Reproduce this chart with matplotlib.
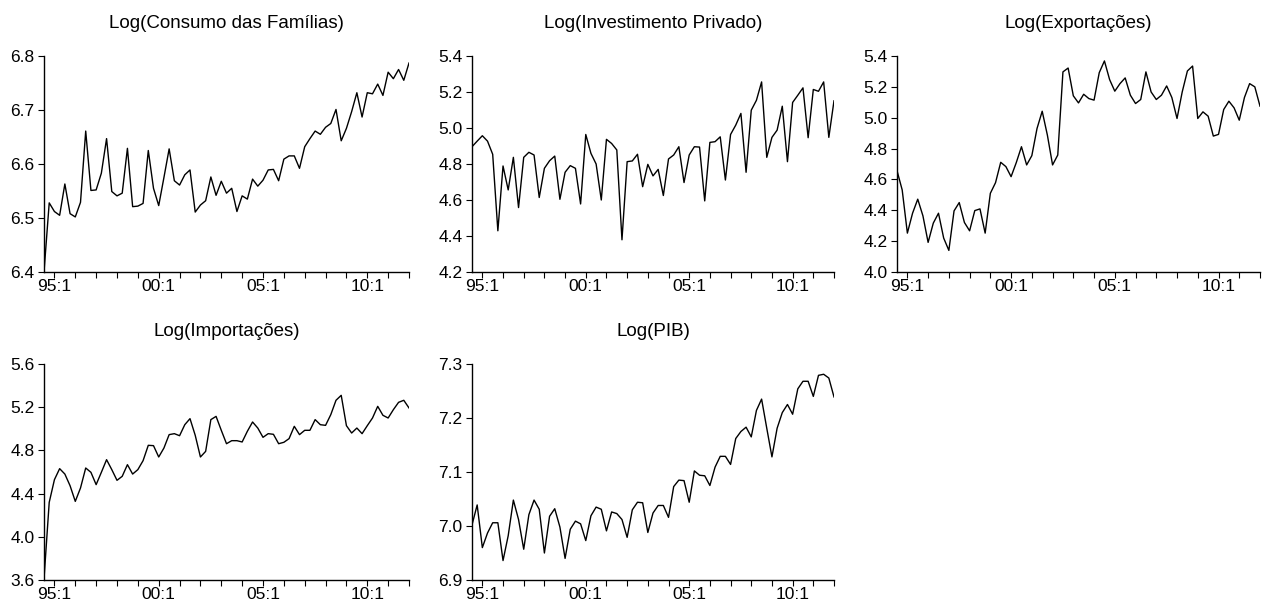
import matplotlib
matplotlib.use("Agg")
import matplotlib.pyplot as plt
import numpy as np

plt.rcParams['font.family'] = ['Liberation Sans', 'DejaVu Sans']

# Quarterly sample 1994:3 - 2012:1
start_year = 1994
start_quarter = 3

consumo = [6.400, 6.528, 6.512, 6.505, 6.563, 6.508, 6.502, 6.529, 6.661, 6.551,
           6.552, 6.583, 6.647, 6.549, 6.541, 6.546, 6.629, 6.521, 6.522, 6.527,
           6.625, 6.555, 6.523, 6.575, 6.628, 6.569, 6.561, 6.580, 6.589, 6.511,
           6.524, 6.532, 6.576, 6.542, 6.568, 6.546, 6.555, 6.512, 6.541, 6.535,
           6.572, 6.559, 6.570, 6.589, 6.590, 6.569, 6.609, 6.615, 6.615, 6.592,
           6.632, 6.647, 6.661, 6.655, 6.668, 6.675, 6.701, 6.643, 6.666, 6.697,
           6.732, 6.687, 6.732, 6.730, 6.748, 6.727, 6.770, 6.758, 6.775, 6.755,
           6.787]

investimento = [4.896, 4.927, 4.957, 4.927, 4.854, 4.429, 4.789, 4.656, 4.837, 4.558,
                4.837, 4.865, 4.850, 4.614, 4.776, 4.818, 4.844, 4.604, 4.754, 4.791,
                4.776, 4.578, 4.964, 4.859, 4.800, 4.600, 4.937, 4.914, 4.878, 4.379,
                4.813, 4.817, 4.854, 4.674, 4.798, 4.734, 4.770, 4.625, 4.828, 4.850,
                4.896, 4.697, 4.850, 4.896, 4.894, 4.595, 4.920, 4.924, 4.951, 4.711,
                4.964, 5.016, 5.081, 4.754, 5.099, 5.154, 5.256, 4.837, 4.948, 4.988,
                5.121, 4.813, 5.142, 5.182, 5.223, 4.946, 5.214, 5.204, 5.256, 4.948,
                5.151]

exportacoes = [4.657, 4.532, 4.252, 4.381, 4.472, 4.364, 4.192, 4.317, 4.381, 4.220,
               4.140, 4.396, 4.450, 4.321, 4.267, 4.398, 4.409, 4.252, 4.510, 4.579,
               4.711, 4.683, 4.618, 4.709, 4.812, 4.694, 4.754, 4.930, 5.042, 4.887,
               4.694, 4.758, 5.297, 5.322, 5.142, 5.096, 5.152, 5.124, 5.114, 5.292,
               5.368, 5.247, 5.172, 5.221, 5.258, 5.146, 5.092, 5.118, 5.297, 5.167,
               5.118, 5.146, 5.206, 5.131, 4.995, 5.167, 5.303, 5.335, 4.995, 5.038,
               5.010, 4.881, 4.892, 5.053, 5.107, 5.064, 4.984, 5.131, 5.221, 5.200,
               5.075]

importacoes = [3.609, 4.319, 4.529, 4.631, 4.581, 4.473, 4.328, 4.452, 4.637, 4.597,
               4.483, 4.597, 4.714, 4.622, 4.523, 4.560, 4.668, 4.581, 4.622, 4.705,
               4.847, 4.844, 4.739, 4.822, 4.946, 4.955, 4.936, 5.038, 5.094, 4.940,
               4.739, 4.791, 5.085, 5.115, 4.986, 4.862, 4.890, 4.890, 4.878, 4.977,
               5.063, 5.007, 4.921, 4.955, 4.949, 4.862, 4.875, 4.909, 5.023, 4.946,
               4.986, 4.986, 5.085, 5.038, 5.032, 5.131, 5.264, 5.310, 5.029, 4.961,
               5.007, 4.955, 5.029, 5.100, 5.208, 5.125, 5.100, 5.177, 5.245, 5.264,
               5.193]

pib = [7.002, 7.039, 6.960, 6.987, 7.006, 7.006, 6.936, 6.982, 7.048, 7.012,
       6.957, 7.021, 7.048, 7.031, 6.950, 7.018, 7.032, 6.998, 6.940, 6.994,
       7.009, 7.004, 6.973, 7.019, 7.035, 7.031, 6.991, 7.026, 7.023, 7.012,
       6.979, 7.030, 7.044, 7.043, 6.988, 7.024, 7.038, 7.038, 7.016, 7.073,
       7.085, 7.084, 7.044, 7.102, 7.094, 7.093, 7.075, 7.109, 7.129, 7.129,
       7.114, 7.162, 7.175, 7.183, 7.165, 7.214, 7.235, 7.181, 7.128, 7.181,
       7.210, 7.225, 7.207, 7.254, 7.268, 7.268, 7.240, 7.279, 7.281, 7.274,
       7.239]

titles = ["Log(Consumo das Famílias)", "Log(Investimento Privado)", "Log(Exportações)",
          "Log(Importações)", "Log(PIB)"]
series = [consumo, investimento, exportacoes, importacoes, pib]
ylims = [(6.4, 6.8), (4.2, 5.4), (4.0, 5.4), (3.6, 5.6), (6.9, 7.3)]
ysteps = [0.1, 0.2, 0.2, 0.4, 0.1]
year_labels = [1995, 2000, 2005, 2010]

n = len(consumo)
t0 = start_year + (start_quarter - 1) / 4.0
x = t0 + np.arange(n) / 4.0

W, H = 1269, 610
fig = plt.figure(figsize=(W / 100, H / 100), dpi=100)

# axes boxes in pixels: left, right, top, bottom
boxes = [
    (44, 409, 56, 272),
    (472, 834, 56, 272),
    (897, 1260, 56, 272),
    (44, 409, 364, 580),
    (472, 834, 364, 580),
]

for k, (s, title, yl, ys, (l, r, tp, b)) in enumerate(zip(series, titles, ylims, ysteps, boxes)):
    ax = fig.add_axes([l / W, 1 - b / H, (r - l) / W, (b - tp) / H])
    ax.plot(x, s, color='black', lw=1.0)
    ax.set_xlim(x[0], x[-1])
    ax.set_ylim(*yl)
    yt = np.round(np.arange(yl[0], yl[1] + ys / 2, ys), 2)
    ax.set_yticks(yt)
    ax.set_yticklabels([f"{v:.1f}" for v in yt])
    years = np.arange(int(np.ceil(x[0])), int(np.floor(x[-1])) + 1)
    ax.set_xticks(years)
    ax.set_xticklabels([f"{y % 100:02d}:1" if y in year_labels else "" for y in years])
    for sp in ['top', 'right']:
        ax.spines[sp].set_visible(False)
    for sp in ['left', 'bottom']:
        ax.spines[sp].set_linewidth(1.0)
    ax.tick_params(axis='both', direction='out', length=4, width=0.8, labelsize=12.5)
    ax.tick_params(axis='x', pad=1)
    ax.tick_params(axis='y', pad=3)
    ax.set_title(title, fontsize=13.5, pad=20)

fig.savefig("out.png", dpi=100)
